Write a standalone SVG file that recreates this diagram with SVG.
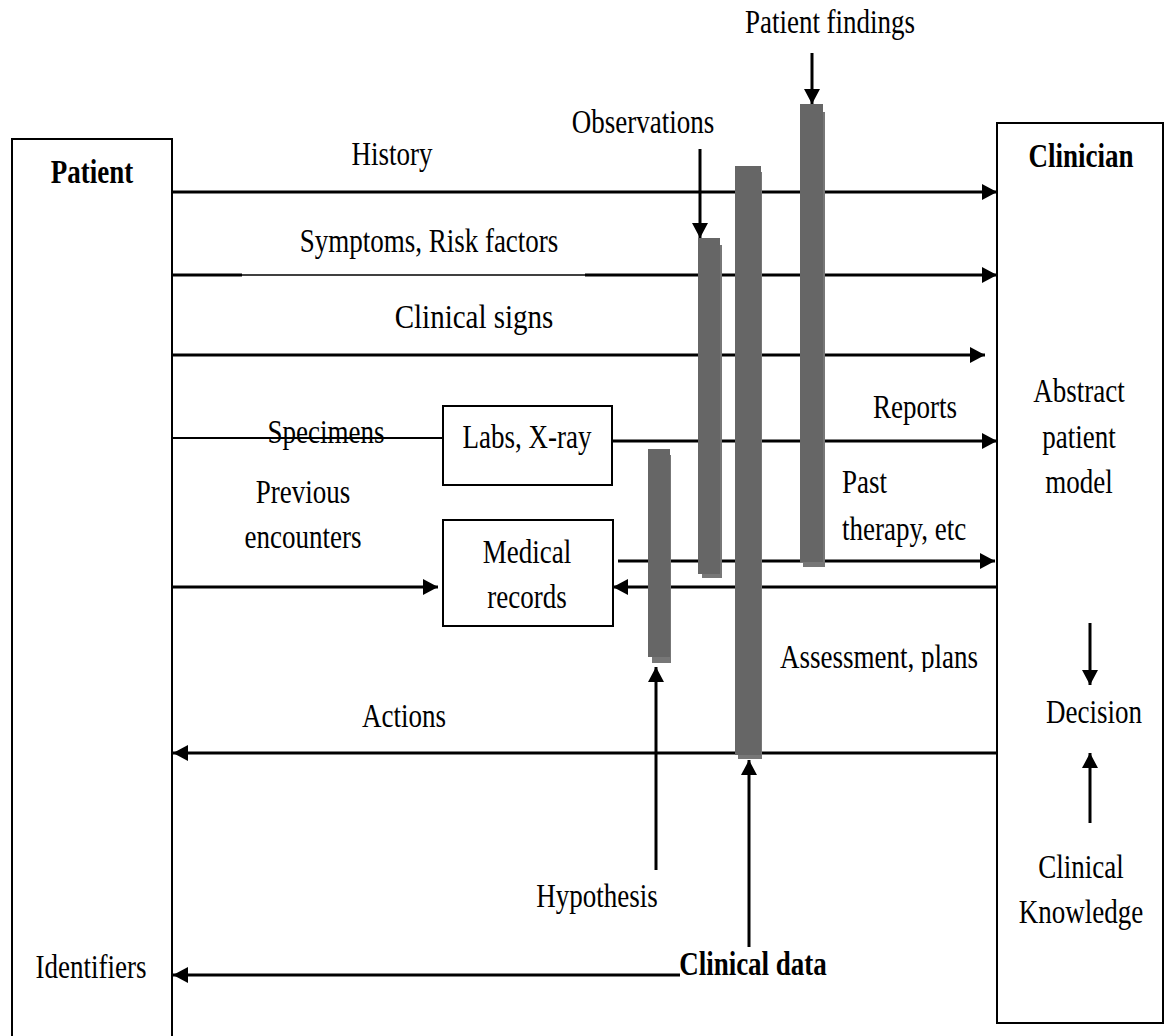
<svg xmlns="http://www.w3.org/2000/svg" width="1165" height="1036" viewBox="0 0 1165 1036" font-family="'Liberation Serif', serif">
<style>
.t{font-family:'Liberation Serif', serif;font-size:27px;fill:#000;text-anchor:middle}
.b{font-weight:bold}
.l{text-anchor:start}
.box{fill:none;stroke:#000;stroke-width:2}
.c{stroke:#000;stroke-width:3;fill:none}
.thin{stroke:#000;stroke-width:1.5;fill:none}
.bar{fill:#666}
.sh{fill:#777}
</style>
<defs>
<marker id="ah" markerUnits="userSpaceOnUse" markerWidth="16" markerHeight="17" refX="15" refY="8" orient="auto">
<path d="M0,0 L15,8 L0,16 z" fill="#000"/>
</marker>
<clipPath id="clipA"><rect x="700" y="600" width="300" height="72"/></clipPath>
</defs>
<rect width="1165" height="1036" fill="#fff"/>

<g id="patient">
<rect class="box" x="12" y="139" width="160" height="920"/>
<text class="t b" transform="translate(92,183) scale(1,1.25)">Patient</text>
<text class="t" transform="translate(91,978) scale(1,1.25)">Identifiers</text>
</g>

<g id="clinician">
<rect class="box" x="997" y="123" width="166" height="900"/>
<text class="t b" transform="translate(1081,167) scale(1,1.25)">Clinician</text>
<text class="t" transform="translate(1079,402) scale(1,1.25)">Abstract</text>
<text class="t" transform="translate(1079,448) scale(1,1.25)">patient</text>
<text class="t" transform="translate(1079,493) scale(1,1.25)">model</text>
<text class="t" transform="translate(1094,723) scale(1,1.25)">Decision</text>
<text class="t" transform="translate(1081,878) scale(1,1.25)">Clinical</text>
<text class="t" transform="translate(1081,923) scale(1,1.25)">Knowledge</text>
</g>

<g id="labs">
<rect class="box" x="443" y="406" width="169" height="79"/>
<text class="t" transform="translate(527,448) scale(1,1.25)">Labs, X-ray</text>
</g>

<g id="records">
<rect class="box" x="443" y="520" width="170" height="106"/>
<text class="t" transform="translate(527,563) scale(1,1.25)">Medical</text>
<text class="t" transform="translate(527,608) scale(1,1.25)">records</text>
</g>

<g id="connectors">
<line class="c" x1="172" y1="192" x2="997" y2="192" marker-end="url(#ah)"/>
<line class="c" x1="172" y1="275" x2="242" y2="275"/>
<line class="thin" x1="242" y1="275" x2="585" y2="275"/>
<line class="c" x1="585" y1="275" x2="997" y2="275" marker-end="url(#ah)"/>
<line class="c" x1="172" y1="355" x2="985" y2="355" marker-end="url(#ah)"/>
<line class="thin" x1="172" y1="438" x2="443" y2="438" style="stroke-width:2"/>
<line class="c" x1="612" y1="441" x2="997" y2="441" marker-end="url(#ah)"/>
<line class="c" x1="172" y1="587" x2="438" y2="587" marker-end="url(#ah)"/>
<line class="c" x1="618" y1="561" x2="995" y2="561" marker-end="url(#ah)"/>
<line class="c" x1="997" y1="587" x2="613" y2="587" marker-end="url(#ah)"/>
<line class="c" x1="997" y1="753" x2="173" y2="753" marker-end="url(#ah)"/>
<line class="c" x1="680" y1="975" x2="173" y2="975" marker-end="url(#ah)"/>
<line class="c" x1="812" y1="53" x2="812" y2="104" marker-end="url(#ah)"/>
<line class="c" x1="700" y1="149" x2="700" y2="238" marker-end="url(#ah)"/>
<line class="c" x1="656" y1="870" x2="656" y2="667" marker-end="url(#ah)"/>
<line class="c" x1="749" y1="947" x2="749" y2="760" marker-end="url(#ah)"/>
<line class="c" x1="1090" y1="623" x2="1090" y2="685" marker-end="url(#ah)"/>
<line class="c" x1="1090" y1="823" x2="1090" y2="753" marker-end="url(#ah)"/>
</g>

<g id="labels">
<text class="t" transform="translate(392,165) scale(1,1.25)">History</text>
<text class="t" transform="translate(429,252) scale(1,1.25)">Symptoms, Risk factors</text>
<text class="t" style="font-size:29px" transform="translate(474,328) scale(1,1.17)">Clinical signs</text>
<text class="t" transform="translate(326,443) scale(1,1.25)">Specimens</text>
<text class="t" transform="translate(303,503) scale(1,1.25)">Previous</text>
<text class="t" transform="translate(303,548) scale(1,1.25)">encounters</text>
<text class="t" transform="translate(915,418) scale(1,1.25)">Reports</text>
<text class="t l" transform="translate(842,493) scale(1,1.25)">Past</text>
<text class="t l" transform="translate(842,540) scale(1,1.25)">therapy, etc</text>
<g clip-path="url(#clipA)"><text class="t" transform="translate(879,668) scale(1,1.25)">Assessment, plans</text></g>
<text class="t" transform="translate(404,727) scale(1,1.25)">Actions</text>
<text class="t" transform="translate(830,33) scale(1,1.25)">Patient findings</text>
<text class="t" transform="translate(643,133) scale(1,1.25)">Observations</text>
<text class="t" transform="translate(597,907) scale(1,1.25)">Hypothesis</text>
<text class="t b" transform="translate(753,975) scale(1,1.25)">Clinical data</text>
</g>

<g id="bar-observations">
<rect class="sh" x="702" y="245" width="20" height="333"/>
<rect class="bar" x="698" y="238" width="22" height="336"/>
</g>
<g id="bar-clinical-data">
<rect class="sh" x="738" y="172" width="24" height="587"/>
<rect class="bar" x="735" y="166" width="26" height="589"/>
</g>
<g id="bar-patient-findings">
<rect class="sh" x="803" y="112" width="22" height="455"/>
<rect class="bar" x="800" y="104" width="23" height="458"/>
</g>
<g id="bar-hypothesis">
<rect class="sh" x="652" y="455" width="19" height="208"/>
<rect class="bar" x="648" y="449" width="22" height="208"/>
</g>
</svg>
